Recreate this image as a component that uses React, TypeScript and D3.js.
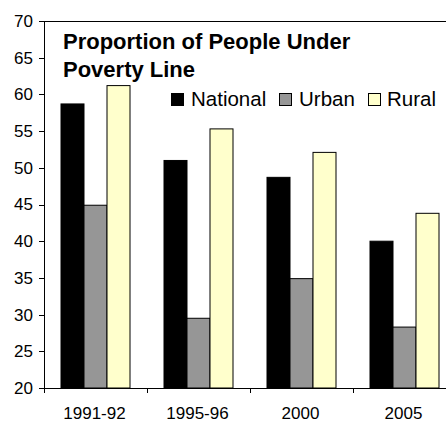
import React from "react";
import * as d3 from "d3";

const categories = ["1991-92", "1995-96", "2000", "2005"];
const seriesNames = ["National", "Urban", "Rural"];
const national = [58.7, 51.0, 48.7, 40.0];
const urban = [44.9, 29.5, 34.9, 28.3];
const rural = [61.2, 55.3, 52.1, 43.8];
const yTicks = [20, 25, 30, 35, 40, 45, 50, 55, 60, 65, 70];
const titleLines = ["Proportion of People Under", "Poverty Line"];

const colors: Record<string, string> = {
  National: "#000000",
  Urban: "#969696",
  Rural: "#FFFFCC",
};

const W = 446;
const H = 422;
const left = 44;
const right = 456;
const top = 21;
const bottom = 388;
const font = "Arial, 'Liberation Sans', sans-serif";

export default function App() {
  const x0 = d3.scaleBand<string>().domain(categories).range([left, right]).padding(0);
  const x1 = d3.scaleBand<string>().domain(seriesNames).range([17, 86]).padding(0);
  const y = d3.scaleLinear().domain([20, 70]).range([bottom, top]);

  const values: Record<string, number[]> = { National: national, Urban: urban, Rural: rural };
  const boundaries = categories.map((c) => x0(c)!).concat([right]);

  return (
    <svg
      width={W}
      height={H}
      style={{ position: "absolute", left: 0, top: 0, background: "#fff" }}
    >
      {/* bars */}
      {categories.map((c, i) => (
        <g key={c} transform={`translate(${x0(c)},0)`}>
          {seriesNames.map((s) => {
            const v = values[s][i];
            return (
              <rect
                key={s}
                x={x1(s)}
                y={y(v)}
                width={x1.bandwidth()}
                height={y(20) - y(v)}
                fill={colors[s]}
                stroke="#000"
                strokeWidth={1}
              />
            );
          })}
        </g>
      ))}

      {/* plot frame */}
      <line x1={left} x2={right} y1={top + 0.5} y2={top + 0.5} stroke="#000" />
      <line x1={left + 0.5} x2={left + 0.5} y1={top} y2={bottom} stroke="#000" />
      <line x1={left} x2={right} y1={bottom + 0.5} y2={bottom + 0.5} stroke="#000" />

      {/* y axis */}
      {yTicks.map((t) => (
        <g key={t}>
          <line
            x1={left - 5}
            x2={left}
            y1={Math.round(y(t)) + 0.5}
            y2={Math.round(y(t)) + 0.5}
            stroke="#000"
          />
          <text
            x={33}
            y={y(t)}
            dy="0.35em"
            textAnchor="end"
            fontFamily={font}
            fontSize={17}
            fill="#000"
          >
            {t}
          </text>
        </g>
      ))}

      {/* x axis */}
      {boundaries.map((b, i) => (
        <line
          key={i}
          x1={Math.round(b) + 0.5}
          x2={Math.round(b) + 0.5}
          y1={bottom}
          y2={bottom + 5}
          stroke="#000"
        />
      ))}
      {categories.map((c) => (
        <text
          key={c}
          x={x0(c)! + x0.bandwidth() / 2 - 1}
          y={419}
          textAnchor="middle"
          fontFamily={font}
          fontSize={17}
          fill="#000"
        >
          {c}
        </text>
      ))}

      {/* title */}
      {titleLines.map((l, i) => (
        <text
          key={l}
          x={63}
          y={48.5 + i * 28.5}
          fontFamily={font}
          fontSize={22}
          fontWeight="bold"
          fill="#000"
        >
          {l}
        </text>
      ))}

      {/* legend */}
      {(() => {
        const items = [
          { s: "National", sq: 171, tx: 191 },
          { s: "Urban", sq: 279, tx: 299 },
          { s: "Rural", sq: 368, tx: 387 },
        ];
        return items.map((it) => (
          <g key={it.s}>
            <rect
              x={it.sq + 0.5}
              y={93.5}
              width={12}
              height={12}
              fill={colors[it.s]}
              stroke="#000"
            />
            <text x={it.tx} y={106} fontFamily={font} fontSize={20.5} fill="#000">
              {it.s}
            </text>
          </g>
        ));
      })()}
    </svg>
  );
}
